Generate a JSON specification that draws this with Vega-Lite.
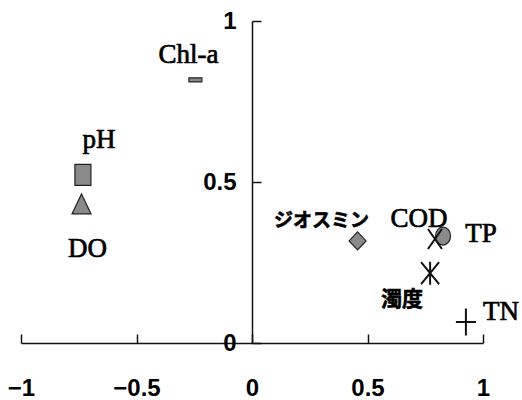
{
  "$schema": "https://vega.github.io/schema/vega-lite/v6.json",
  "width": 462,
  "height": 322,
  "autosize": "none",
  "padding": {"left": 21, "top": 21, "right": 39, "bottom": 57},
  "background": "white",
  "config": {"view": {"stroke": null}},
  "data": {"values": [
    {"name": "Chl-a", "x": -0.245, "y": 0.817},
    {"name": "pH", "x": -0.732, "y": 0.522},
    {"name": "DO", "x": -0.738, "y": 0.432},
    {"name": "ジオスミン", "x": 0.457, "y": 0.317},
    {"name": "COD", "x": 0.792, "y": 0.323},
    {"name": "TP", "x": 0.827, "y": 0.332},
    {"name": "濁度", "x": 0.771, "y": 0.217},
    {"name": "TN", "x": 0.926, "y": 0.065}
  ]},
  "encoding": {
    "x": {"field": "x", "type": "quantitative",
      "scale": {"domain": [-1, 1], "nice": false, "zero": false},
      "axis": {"title": null, "values": [-1, -0.5, 0, 0.5, 1], "format": "~g", "grid": false,
        "domainColor": "#111", "domainWidth": 1.5, "tickColor": "#111", "tickWidth": 1.5, "tickSize": -9,
        "labelPadding": 42, "labelFont": "'Liberation Sans', Arial, sans-serif", "labelFontWeight": "bold",
        "labelFontSize": 24, "labelColor": "#000", "labelBaseline": "top", "labelFlush": false, "labelOverlap": false}},
    "y": {"field": "y", "type": "quantitative",
      "scale": {"domain": [0, 1], "nice": false, "zero": false},
      "axis": {"title": null, "values": [0, 0.5, 1], "format": "~g", "grid": false, "offset": -231,
        "domainColor": "#111", "domainWidth": 1.5, "tickColor": "#111", "tickWidth": 1.5, "tickSize": -9,
        "labelPadding": 25, "labelFont": "'Liberation Sans', Arial, sans-serif", "labelFontWeight": "bold",
        "labelFontSize": 24, "labelColor": "#000", "labelBaseline": "middle", "labelFlush": false, "labelOverlap": false}}
  },
  "layer": [
    {
      "transform": [{"filter": {"field": "name", "oneOf": ["Chl-a", "pH", "DO", "ジオスミン", "TP"]}}],
      "mark": {"type": "point", "filled": true, "fill": "#8a8a8a", "stroke": "#222", "strokeWidth": 1.2, "opacity": 1, "size": 400},
      "encoding": {
        "shape": {"field": "name", "type": "nominal", "legend": null,
          "scale": {"domain": ["Chl-a", "pH", "DO", "ジオスミン", "COD", "TP", "濁度", "TN"],
            "range": [
              "M-0.65,-0.2H0.65V0.2H-0.65Z",
              "M-0.8,-1.05H0.8V1.05H-0.8Z",
              "M0,-1L0.95,1L-0.95,1Z",
              "M0,-0.9L0.85,0L0,0.9L-0.85,0Z",
              "M-0.7,-1L0.7,1M0.7,-1L-0.7,1",
              "M-0.75,0A0.75,0.9 0 1,0 0.75,0A0.75,0.9 0 1,0 -0.75,0Z",
              "M-0.9,-1.1L0.9,1.1M0.9,-1.1L-0.9,1.1M0,-1.15V1.15",
              "M-1,0H1M0,-1.35V1.35"
            ]}}
      }
    },
    {
      "transform": [{"filter": {"field": "name", "oneOf": ["COD", "濁度", "TN"]}}],
      "mark": {"type": "point", "filled": false, "stroke": "#111", "strokeWidth": 2, "opacity": 1, "size": 400},
      "encoding": {
        "shape": {"field": "name", "type": "nominal", "legend": null,
          "scale": {"domain": ["Chl-a", "pH", "DO", "ジオスミン", "COD", "TP", "濁度", "TN"],
            "range": [
              "M-0.65,-0.2H0.65V0.2H-0.65Z",
              "M-0.8,-1.05H0.8V1.05H-0.8Z",
              "M0,-1L0.95,1L-0.95,1Z",
              "M0,-0.9L0.85,0L0,0.9L-0.85,0Z",
              "M-0.7,-1L0.7,1M0.7,-1L-0.7,1",
              "M-0.75,0A0.75,0.9 0 1,0 0.75,0A0.75,0.9 0 1,0 -0.75,0Z",
              "M-0.9,-1.1L0.9,1.1M0.9,-1.1L-0.9,1.1M0,-1.15V1.15",
              "M-1,0H1M0,-1.35V1.35"
            ]}}
      }
    },
    {"transform": [{"filter": "datum.name === 'Chl-a'"}],
     "mark": {"type": "text", "font": "'Liberation Serif', 'Times New Roman', serif", "fontSize": 27, "fill": "#000", "stroke": "#000", "strokeWidth": 0.7, "align": "center", "baseline": "alphabetic", "dx": -7, "dy": -17},
     "encoding": {"text": {"field": "name"}}},
    {"transform": [{"filter": "datum.name === 'pH'"}],
     "mark": {"type": "text", "font": "'Liberation Serif', 'Times New Roman', serif", "fontSize": 27, "fill": "#000", "stroke": "#000", "strokeWidth": 0.7, "align": "center", "baseline": "alphabetic", "dx": 16, "dy": -27},
     "encoding": {"text": {"field": "name"}}},
    {"transform": [{"filter": "datum.name === 'DO'"}],
     "mark": {"type": "text", "font": "'Liberation Serif', 'Times New Roman', serif", "fontSize": 27, "fill": "#000", "stroke": "#000", "strokeWidth": 0.7, "align": "center", "baseline": "alphabetic", "dx": 6, "dy": 53},
     "encoding": {"text": {"field": "name"}}},
    {"transform": [{"filter": "datum.name === 'COD'"}],
     "mark": {"type": "text", "font": "'Liberation Serif', 'Times New Roman', serif", "fontSize": 27, "fill": "#000", "stroke": "#000", "strokeWidth": 0.7, "align": "center", "baseline": "alphabetic", "dx": -16, "dy": -12},
     "encoding": {"text": {"field": "name"}}},
    {"transform": [{"filter": "datum.name === 'TP'"}],
     "mark": {"type": "text", "font": "'Liberation Serif', 'Times New Roman', serif", "fontSize": 27, "fill": "#000", "stroke": "#000", "strokeWidth": 0.7, "align": "center", "baseline": "alphabetic", "dx": 38, "dy": 6},
     "encoding": {"text": {"field": "name"}}},
    {"transform": [{"filter": "datum.name === 'TN'"}],
     "mark": {"type": "text", "font": "'Liberation Serif', 'Times New Roman', serif", "fontSize": 27, "fill": "#000", "stroke": "#000", "strokeWidth": 0.7, "align": "center", "baseline": "alphabetic", "dx": 35, "dy": -2},
     "encoding": {"text": {"field": "name"}}},
    {"transform": [{"filter": "datum.name === 'ジオスミン'"}],
     "mark": {"type": "text", "font": "'Noto Sans CJK JP', sans-serif", "fontSize": 19, "fontWeight": "bold", "fill": "#000", "stroke": "#000", "strokeWidth": 0.6, "align": "center", "baseline": "alphabetic", "dx": -36, "dy": -14},
     "encoding": {"text": {"field": "name"}}},
    {"transform": [{"filter": "datum.name === '濁度'"}],
     "mark": {"type": "text", "font": "'Noto Sans CJK JP', sans-serif", "fontSize": 21, "fontWeight": "bold", "fill": "#000", "stroke": "#000", "strokeWidth": 0.6, "align": "center", "baseline": "alphabetic", "dx": -28, "dy": 33},
     "encoding": {"text": {"field": "name"}}}
  ]
}
